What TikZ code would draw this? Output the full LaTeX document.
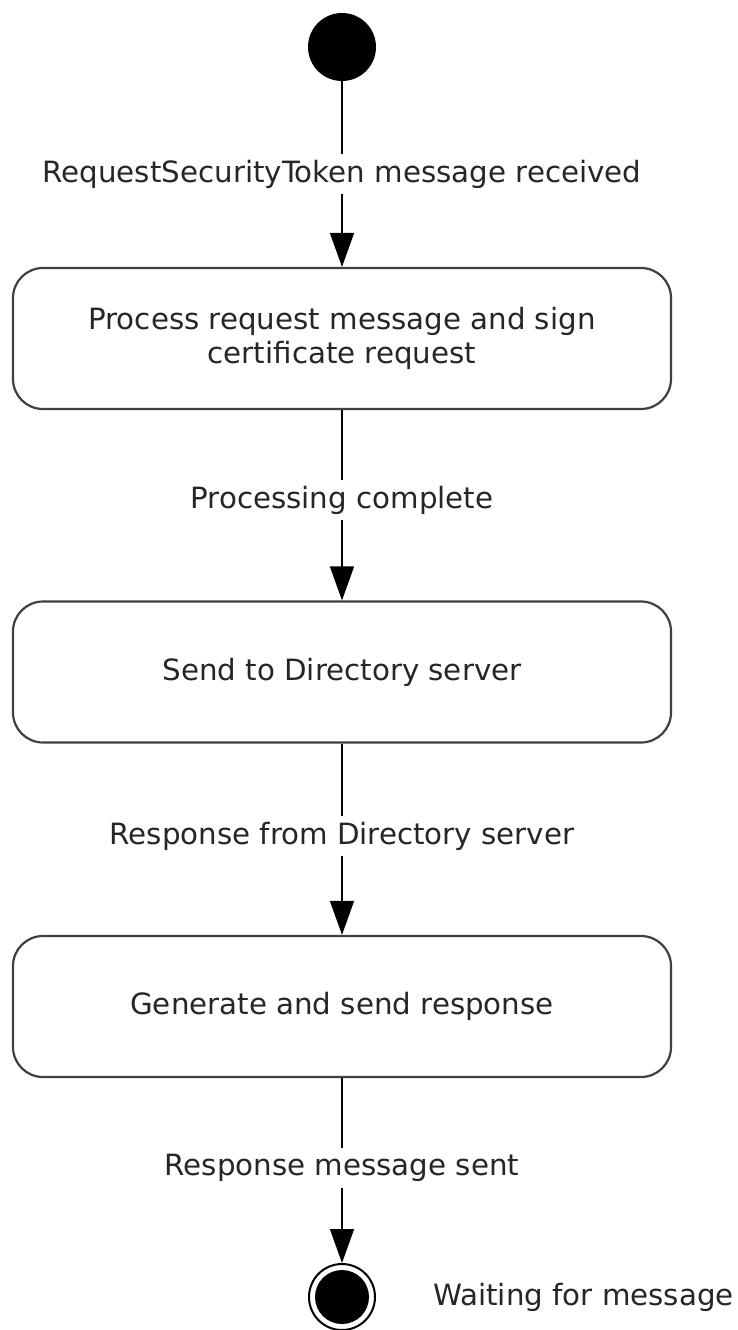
\documentclass[tikz,border=0pt]{standalone}
\usepackage{fontspec}
\setmainfont{DejaVu Sans}
\usetikzlibrary{arrows.meta}
\begin{document}
\begin{tikzpicture}[x=1pt,y=1pt,
  txt/.style={font=\fontsize{29.3}{34}\selectfont, text=black!85},
  statebox/.style={txt, draw=black!75, line width=2.2pt, rounded corners=30pt,
    minimum width=658pt, minimum height=141pt, align=center, inner sep=0pt},
  lbl/.style={txt, fill=white, inner sep=6pt},
  initialstate/.style={circle, fill=black, minimum size=68pt, inner sep=0pt},
  finalstate/.style={circle, draw=black, line width=2pt, minimum size=66pt, inner sep=0pt,
    path picture={\fill[black] (path picture bounding box.center) circle (27pt);}},
  flow/.style={line width=1.5pt, draw=black},
  arr/.style={flow, -{Triangle[length=34pt,width=24pt]}}
]
\useasboundingbox (0,0) rectangle (738,-1330);

\node[initialstate] (start) at (342,-47) {};
\node[lbl] (l1) at (342,-174) {RequestSecurityToken message received};
\node[statebox] (s1) at (342,-338.5) {Process request message and sign\\certificate request};
\node[lbl] (l2) at (342,-500) {Processing complete};
\node[statebox] (s2) at (342,-672) {Send to Directory server};
\node[lbl] (l3) at (342,-836) {Response from Directory server};
\node[statebox] (s3) at (342,-1006.5) {Generate and send response};
\node[lbl] (l4) at (342,-1168) {Response message sent};
\node[finalstate] (end) at (342,-1297) {};
\node[txt, anchor=west, inner sep=0pt] (wait) at (433,-1297) {Waiting for message};

\draw[flow] (start) -- (l1);
\draw[arr] (l1) -- (s1);
\draw[flow] (s1) -- (l2);
\draw[arr] (l2) -- (s2);
\draw[flow] (s2) -- (l3);
\draw[arr] (l3) -- (s3);
\draw[flow] (s3) -- (l4);
\draw[arr] (l4) -- (end);
\end{tikzpicture}
\end{document}
